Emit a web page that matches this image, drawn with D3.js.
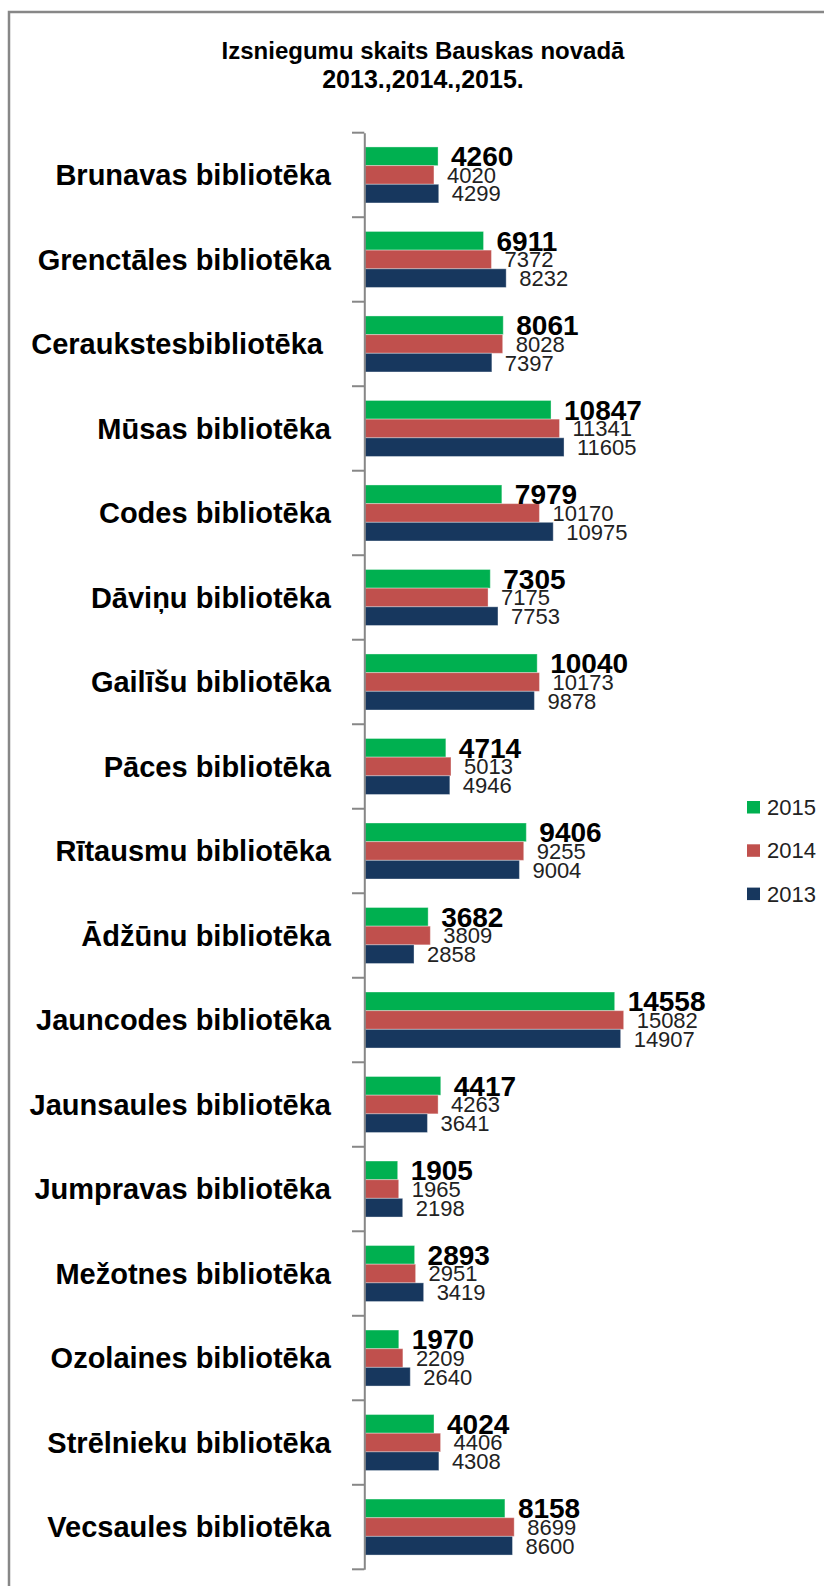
<!DOCTYPE html>
<html>
	<head>
		<meta charset="utf-8">
		<script src="https://cdn.jsdelivr.net/npm/d3@7"></script>
		<style>
			body { margin: 0; background: #fff; }
			text { font-family: "Liberation Sans", Arial, sans-serif; white-space: pre; }
		</style>
	</head>
	<body>
		<script>

			var categories = ["Brunavas bibliotēka", "Grenctāles bibliotēka", "Ceraukstesbibliotēka ",
				"Mūsas bibliotēka", "Codes bibliotēka", "Dāviņu bibliotēka", "Gailīšu bibliotēka",
				"Pāces bibliotēka", "Rītausmu bibliotēka", "Ādžūnu bibliotēka", "Jauncodes bibliotēka",
				"Jaunsaules bibliotēka", "Jumpravas bibliotēka", "Mežotnes bibliotēka",
				"Ozolaines bibliotēka", "Strēlnieku bibliotēka", "Vecsaules bibliotēka"];

			var years = ["2015", "2014", "2013"];
			var v2015 = [4260, 6911, 8061, 10847, 7979, 7305, 10040, 4714, 9406, 3682, 14558, 4417, 1905, 2893, 1970, 4024, 8158];
			var v2014 = [4020, 7372, 8028, 11341, 10170, 7175, 10173, 5013, 9255, 3809, 15082, 4263, 1965, 2951, 2209, 4406, 8699];
			var v2013 = [4299, 8232, 7397, 11605, 10975, 7753, 9878, 4946, 9004, 2858, 14907, 3641, 2198, 3419, 2640, 4308, 8600];
			var colors = ["#00B050", "#C0504D", "#17375E"];

			var title1 = "Izsniegumu skaits Bauskas novadā";
			var title2 = "2013.,2014.,2015.";

			var width = 824;
			var height = 1586;

			var svg = d3.select('body').append('svg')
				.attr('width', width)
				.attr('height', height);

			// frame (only top and left edges visible in the picture)
			svg.append('rect')
				.attr('x', 9).attr('y', 12)
				.attr('width', 900).attr('height', 1700)
				.attr('fill', 'none')
				.attr('stroke', '#878787')
				.attr('stroke-width', 2.5);

			svg.append('text')
				.attr('x', 423).attr('y', 59)
				.attr('text-anchor', 'middle')
				.style('font-weight', 'bold')
				.style('font-size', '24px')
				.text(title1);
			svg.append('text')
				.attr('x', 423).attr('y', 88)
				.attr('text-anchor', 'middle')
				.style('font-weight', 'bold')
				.style('font-size', '25px')
				.text(title2);

			var rows = categories.map(function (c, i) {
				return {name: c, values: [v2015[i], v2014[i], v2013[i]]};
			});

			var y0 = d3.scaleBand()
				.domain(categories)
				.range([132.7, 1569.3])
				.padding(0);

			var y1 = d3.scaleBand()
				.domain(years)
				.range([14.25, y0.bandwidth() - 14.25])
				.padding(0);

			var x = d3.scaleLinear()
				.domain([0, 16000])
				.range([365, 365 + 274.4]);

			var g = svg.selectAll('g.cat')
				.data(rows)
				.enter()
				.append('g')
				.attr('class', 'cat')
				.attr('transform', function (d) {
					return 'translate(0,' + y0(d.name) + ')';
				});

			g.selectAll('rect')
				.data(function (d) { return d.values; })
				.enter()
				.append('rect')
				.attr('x', x(0))
				.attr('y', function (d, i) { return y1(years[i]); })
				.attr('width', function (d) { return x(d) - x(0); })
				.attr('height', y1.bandwidth())
				.attr('fill', function (d, i) { return colors[i]; })
				.attr('stroke', 'rgba(255,255,255,0.35)')
				.attr('stroke-width', 1);

			g.selectAll('text.val')
				.data(function (d) { return d.values; })
				.enter()
				.append('text')
				.attr('class', 'val')
				.attr('x', function (d) { return x(d) + 13; })
				.attr('y', function (d, i) {
					var fs = i == 0 ? 28 : 22;
					return y1(years[i]) + y1.bandwidth() / 2 + fs * 0.358;
				})
				.style('font-size', function (d, i) { return i == 0 ? '28px' : '22px'; })
				.style('font-weight', function (d, i) { return i == 0 ? 'bold' : 'normal'; })
				.attr('fill', function (d, i) { return i == 0 ? '#000' : '#222'; })
				.text(function (d) { return d; });

			g.append('text')
				.attr('x', 331)
				.attr('y', y0.bandwidth() / 2 + 10.4)
				.attr('text-anchor', 'end')
				.style('font-weight', 'bold')
				.style('font-size', '29px')
				.text(function (d) { return d.name; });

			// axis line with category ticks
			var axis = d3.axisLeft(y0)
				.tickValues([])
				.tickSizeOuter(0);
			svg.append('g')
				.attr('transform', 'translate(364.3,0)')
				.call(axis)
				.select('.domain')
				.attr('stroke', '#878787')
				.attr('stroke-width', 2);

			var bounds = categories.map(function (c) { return y0(c); });
			bounds.push(y0.range()[1]);
			svg.selectAll('line.tick')
				.data(bounds)
				.enter()
				.append('line')
				.attr('class', 'tick')
				.attr('x1', 352).attr('x2', 364.3)
				.attr('y1', function (d) { return d; })
				.attr('y2', function (d) { return d; })
				.attr('stroke', '#878787')
				.attr('stroke-width', 2);

			// legend
			var legend = svg.selectAll('g.legend')
				.data(years)
				.enter()
				.append('g')
				.attr('class', 'legend')
				.attr('transform', function (d, i) {
					return 'translate(747,' + (801 + i * 43.3) + ')';
				});
			legend.append('rect')
				.attr('width', 13).attr('height', 12.5)
				.attr('fill', function (d, i) { return colors[i]; });
			legend.append('text')
				.attr('x', 20).attr('y', 14)
				.style('font-size', '22px')
				.attr('fill', '#222')
				.text(function (d) { return d; });

		</script>
	</body>
</html>
